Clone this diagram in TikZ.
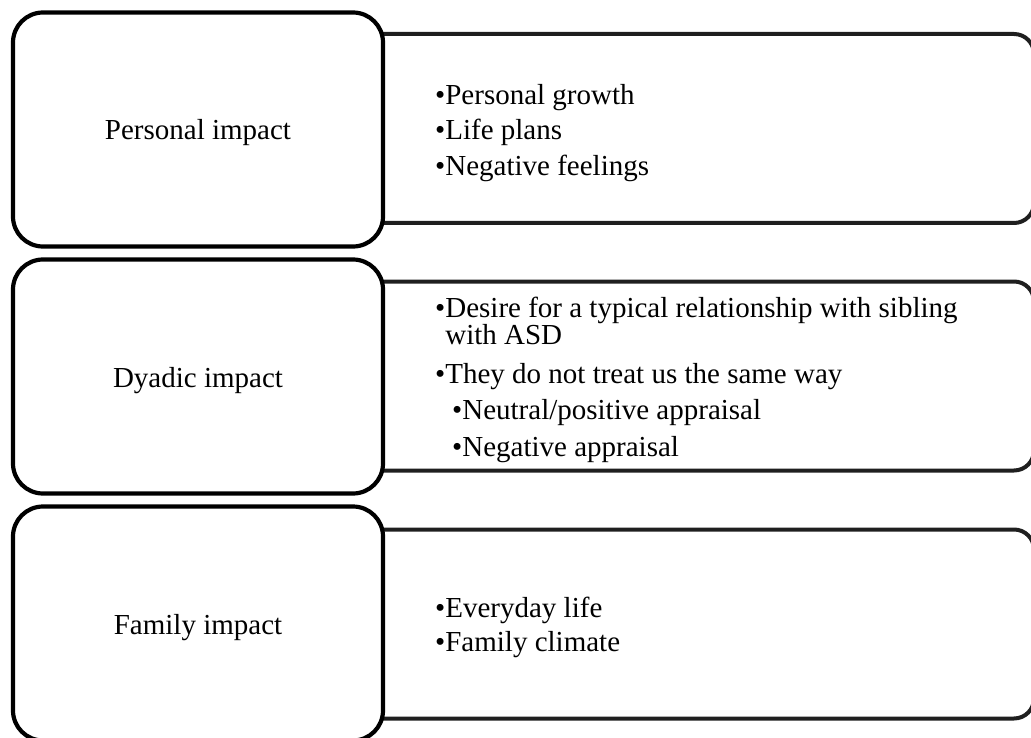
\documentclass[tikz,border=0pt]{standalone}
\usepackage{fontspec}
\setmainfont{Liberation Serif}
\begin{document}
\begin{tikzpicture}[x=1pt, y=-1pt,
  lbox/.style={draw=black, line width=4.2pt, rounded corners=30pt, fill=white,
    minimum width=370pt, minimum height=234pt, inner sep=0pt,
    text height=21pt, text depth=0pt, font=\fontsize{29}{34}\selectfont},
  rbox/.style={draw=black!88, line width=4pt, rounded corners=20pt, fill=white,
    minimum width=694pt, minimum height=189pt, inner sep=0pt}]
  \tikzset{item/.style={anchor=base west, inner sep=0pt, font=\fontsize{29}{27}\selectfont}}
  \useasboundingbox (0,0) rectangle (1031,738);
  % row 1: personal
  \node[rbox] (rpers) at (687,128.5) {};
  \node[lbox] (pers) at (198,129.5) {Personal impact};
  \node[item] (pers1) at (435,105) {•Personal growth};
  \node[item] (pers2) at (435,140) {•Life plans};
  \node[item] (pers3) at (435,176) {•Negative feelings};
  % row 2: dyadic
  \node[rbox] (rdya) at (687,376) {};
  \node[lbox] (dya) at (198,376.5) {Dyadic impact};
  \node[item, align=left] (dya1) at (435,344)
    {•Desire for a typical relationship with sibling\\\phantom{•}with ASD};
  \node[item] (dya2) at (435,383) {•They do not treat us the same way};
  \node[item] (dya3) at (452,419) {•Neutral/positive appraisal};
  \node[item] (dya4) at (452,456) {•Negative appraisal};
  % row 3: family
  \node[rbox] (rfam) at (687,624) {};
  \node[lbox] (fam) at (198,623.5) {Family impact};
  \node[item] (fam1) at (435,617) {•Everyday life};
  \node[item] (fam2) at (435,651) {•Family climate};
\end{tikzpicture}
\end{document}
